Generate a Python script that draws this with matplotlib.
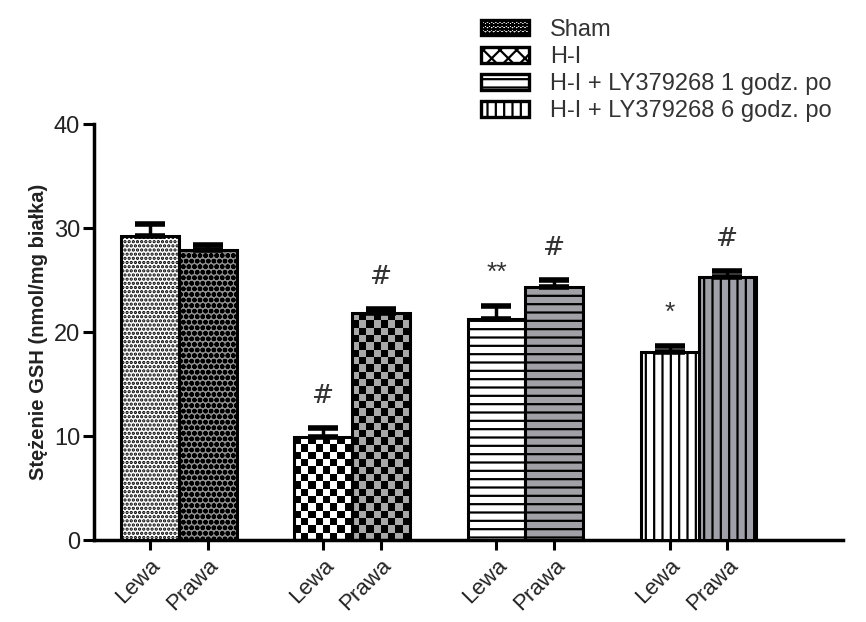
import numpy as np
import matplotlib
matplotlib.use('Agg')
import matplotlib.pyplot as plt
from matplotlib.patches import Patch
from matplotlib.colors import ListedColormap

plt.rcParams['font.family'] = ['Liberation Sans', 'DejaVu Sans']
plt.rcParams['hatch.linewidth'] = 1.6

groups = ['Sham', 'H-I', 'H-I + LY379268 1 godz. po', 'H-I + LY379268 6 godz. po']
sides = ['Lewa', 'Prawa']
gsh_mean = [29.2, 27.9, 9.9, 21.8, 21.3, 24.3, 18.1, 25.3]
gsh_err = [1.2, 0.5, 0.9, 0.4, 1.2, 0.7, 0.6, 0.6]
marks = ['', '', '#', '#', '**', '#', '*', '#']

# positions: two bars per group, one bar-width gap between groups
pos = []
for g in range(len(groups)):
    pos += [g * 3, g * 3 + 1]

hatches = ['....', 'ooo', None, None, '--', '--', '||', '||']
faces = ['white', '#8e8e8e', 'white', '#a8a8a8', 'white', '#a0a0a6', 'white', '#a0a0a8']

fig = plt.figure(figsize=(8.66, 6.22), dpi=100)
ax = fig.add_axes([0.1085, 0.1318, 0.8649, 0.6688])
ax.set_xlim(-0.97, 12.0)
ax.set_ylim(0, 40)

bars = []
for i, (x, m) in enumerate(zip(pos, gsh_mean)):
    h = hatches[i]
    b = ax.bar(x, m, width=1.0, facecolor=faces[i] if h else 'none',
               edgecolor='black', linewidth=2.2, hatch=h, zorder=3)[0]
    bars.append(b)

# checkerboard fill for the H-I bars
for i in (2, 3):
    b = bars[i]
    x0, w, h = b.get_x(), b.get_width(), b.get_height()
    p0 = ax.transData.transform((x0, 0))
    p1 = ax.transData.transform((x0 + w, h))
    ncol = 8
    nrow = max(1, int(round((p1[1] - p0[1]) / ((p1[0] - p0[0]) / ncol))))
    board = np.indices((nrow, ncol)).sum(axis=0) % 2
    im = ax.imshow(board, extent=(x0, x0 + w, 0, h), origin='lower',
                   cmap=ListedColormap([faces[i], 'black']),
                   interpolation='nearest', aspect='auto', zorder=2)
    im.set_clip_path(b)

ax.set_xlim(-0.97, 12.0)
ax.set_ylim(0, 40)

ax.errorbar(pos, gsh_mean, yerr=[np.zeros(len(gsh_err)), gsh_err], fmt='none',
            ecolor='black', elinewidth=2.5, capsize=11, capthick=4, zorder=4)

for x, m, e, s in zip(pos, gsh_mean, gsh_err, marks):
    if not s:
        continue
    if s == '#':
        ax.text(x, m + e + 1.9, s, ha='center', va='bottom', fontsize=19,
                family='DejaVu Serif', color='#333333')
    else:
        ax.text(x, m + e + 2.0, s, ha='center', va='bottom', fontsize=19,
                color='#333333')

ax.spines['top'].set_visible(False)
ax.spines['right'].set_visible(False)
ax.spines['left'].set_linewidth(2.5)
ax.spines['bottom'].set_linewidth(2.5)

ax.set_yticks([0, 10, 20, 30, 40])
ax.tick_params(axis='y', direction='out', length=8, width=2.2, labelsize=17,
               labelcolor='#222222', pad=2)
ax.tick_params(axis='x', direction='out', length=7, width=2.2, labelsize=16,
               labelcolor='#222222', pad=4)
ax.set_xticks(pos)
ax.set_xticklabels(sides * len(groups), rotation=45, ha='right',
                   rotation_mode='anchor')
ax.set_ylabel('Stężenie GSH (nmol/mg białka)', fontsize=14.5, fontweight='bold',
              color='#222222', labelpad=4)

handles = [Patch(facecolor='white', edgecolor='black', linewidth=2.4, hatch=h)
           for h in ['oooo', 'xx', '--', '||']]
fig.legend(handles, groups, loc='upper left', bbox_to_anchor=(0.545, 0.985),
           frameon=False, fontsize=17, handlelength=2.0, handleheight=0.65,
           labelspacing=0.22, handletextpad=0.9, labelcolor='#333333',
           borderaxespad=0)

fig.savefig('out.png', dpi=100)
